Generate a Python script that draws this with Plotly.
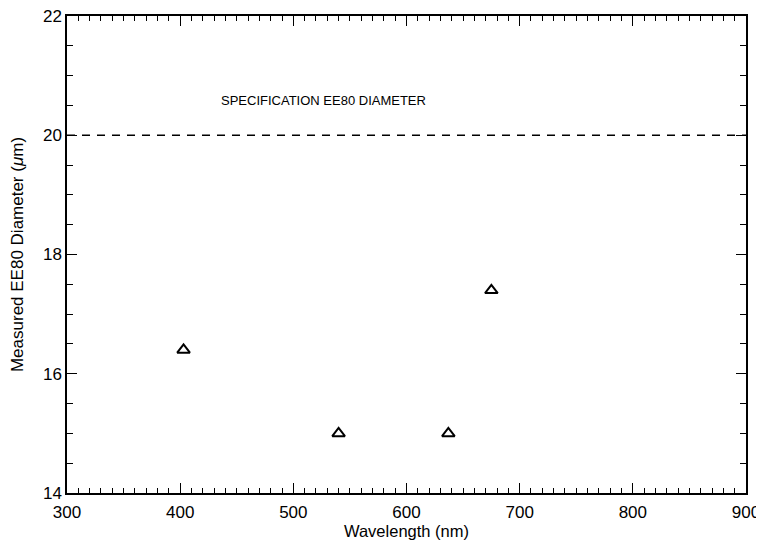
import plotly.graph_objects as go

wavelength = [403, 540, 637, 675]
diameter = [16.4, 15.0, 15.0, 17.4]
spec_x = [300, 900]
spec_y = [20, 20]
spec_label = "SPECIFICATION EE80 DIAMETER"
x_ticks = [300, 400, 500, 600, 700, 800, 900]
y_ticks = [14, 16, 18, 20, 22]

FONT = "Liberation Sans, Arial, sans-serif"

fig = go.Figure()
fig.add_trace(go.Scatter(x=spec_x, y=spec_y, mode="lines",
                         line=dict(color="black", width=1.6, dash="8px,7px"),
                         showlegend=False, hoverinfo="skip"))
fig.add_trace(go.Scatter(x=wavelength, y=diameter, mode="markers",
                         marker=dict(symbol="triangle-up-open", size=11,
                                     color="black", line=dict(width=2, color="black")),
                         showlegend=False))
fig.add_annotation(x=527, y=20.58, text=spec_label, showarrow=False,
                   font=dict(family=FONT, size=13, color="black"))

axis_common = dict(showgrid=False, zeroline=False, showline=True, linecolor="black",
                   linewidth=1.5, mirror="allticks", ticks="inside", tickcolor="black",
                   tickwidth=1.3, ticklen=10, automargin=False, ticklabeloverflow="allow",
                   tickfont=dict(family=FONT, size=17, color="black"))
fig.update_xaxes(range=[300, 900], tickvals=x_ticks, ticklabelstandoff=3,
                 minor=dict(dtick=10, ticks="inside", ticklen=5, tickcolor="black", tickwidth=1.2),
                 title=dict(text="Wavelength (nm)", font=dict(family=FONT, size=16.5, color="black"), standoff=0),
                 **axis_common)
fig.update_yaxes(range=[14, 22], tickvals=y_ticks,
                 minor=dict(dtick=0.5, ticks="inside", ticklen=6, tickcolor="black", tickwidth=1.2),
                 title=dict(text="Measured EE80 Diameter (<i>μ</i>m)", font=dict(family=FONT, size=17, color="black"), standoff=15),
                 **axis_common)
fig.update_layout(width=756, height=537, margin=dict(l=59, r=18, t=8, b=52),
                  plot_bgcolor="white", paper_bgcolor="white")
fig.write_html("out.html")
